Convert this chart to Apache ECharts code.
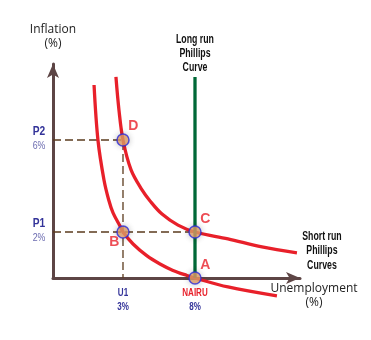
<!DOCTYPE html>
<html>
<head>
<meta charset="utf-8">
<script src="https://cdn.jsdelivr.net/npm/echarts@6/dist/echarts.min.js"></script>
<style>
  html, body { margin: 0; padding: 0; background: #ffffff; }
  #chart { width: 371px; height: 340px; }
</style>
</head>
<body>
<div id="chart"></div>
<script>
// Tick values and their labels on both axes
const unemploymentTicks = [3, 8];
const unemploymentTickNames = ['U1', 'NAIRU'];
const unemploymentTickLabels = ['3%', '8%'];
const inflationTicks = [2, 6];
const inflationTickNames = ['P1', 'P2'];
const inflationTickLabels = ['2%', '6%'];

// Short run Phillips curves: [unemployment, inflation]
const shortRunLower = [
  [0.99, 8.39], [1.26, 6.00], [1.68, 4.26], [2.01, 3.39], [2.31, 2.83],
  [2.79, 2.26], [3, 2], [3.70, 1.48], [4.67, 0.96], [5.57, 0.61],
  [6.47, 0.33], [7.44, 0.11], [8, 0], [10.29, -0.39], [13.69, -0.78]
];
const shortRunUpper = [
  [2.51, 8.74], [2.72, 7.30], [3, 6], [3.56, 4.70], [4.32, 3.83],
  [4.88, 3.35], [5.71, 2.78], [6.82, 2.30], [8, 2], [10.29, 1.70],
  [12.65, 1.35], [15.08, 1.09]
];

// Long run Phillips curve sits at the natural rate
const longRun = [[8, 0], [8, 8.74]];

// Equilibrium points
const pointNames = ['A', 'B', 'C', 'D'];
const pointValues = [[8, 0], [3, 2], [8, 2], [3, 6]];

const X_MIN = -1.861, X_MAX = 15.292;
const Y_MIN = 0, Y_MAX = 9.304;

const boldFace = '"Liberation Sans", Arial, sans-serif';
const plain = '"Open Sans", "Noto Sans", sans-serif';
const red = '#e8202a';
const navy = '#333399';
const axisColor = '#5d4545';
const guideColor = '#5b3b1e';
const NARROW = 0.73;
const POINT_SIZE = 12;

// Letter placement relative to each point's centre
const labelOffsets = { A: [11, -12], B: [-8, 11], C: [11, -12], D: [11, -13] };

const chart = echarts.init(document.getElementById('chart'), null, { renderer: 'canvas' });

chart.setOption({
  animation: false,
  backgroundColor: '#ffffff',
  grid: { left: 53, right: 71, top: 64, bottom: 62 },
  xAxis: {
    type: 'value', min: X_MIN, max: X_MAX,
    splitLine: { show: false },
    axisTick: { show: false },
    axisLabel: { show: false },
    axisLine: { lineStyle: { color: axisColor, width: 3 }, symbol: ['none', 'arrow'], symbolSize: [9, 14] }
  },
  yAxis: {
    type: 'value', min: Y_MIN, max: Y_MAX,
    name: 'Inflation\n(%)', nameLocation: 'end', nameGap: 13,
    nameTextStyle: { fontFamily: plain, fontSize: 12, color: '#222222', lineHeight: 14, align: 'center' },
    splitLine: { show: false },
    axisTick: { show: false },
    axisLabel: { show: false },
    axisLine: { onZero: false, lineStyle: { color: axisColor, width: 3 }, symbol: ['none', 'arrow'], symbolSize: [9, 14] }
  },
  series: [
    {
      type: 'line', z: 1, silent: true, showSymbol: false, clip: false,
      data: [[X_MIN, inflationTicks[1]], [unemploymentTicks[0], inflationTicks[1]], [unemploymentTicks[0], 0]],
      lineStyle: { color: guideColor, width: 1.3, type: [8, 4] }
    },
    {
      type: 'line', z: 1, silent: true, showSymbol: false, clip: false,
      data: [[X_MIN, inflationTicks[0]], [unemploymentTicks[1], inflationTicks[0]]],
      lineStyle: { color: guideColor, width: 1.3, type: [8, 4] }
    },
    {
      type: 'line', z: 2, smooth: 0.35, showSymbol: false, clip: false,
      data: shortRunLower,
      lineStyle: { color: red, width: 3.3 }
    },
    {
      type: 'line', z: 2, smooth: 0.35, showSymbol: false, clip: false,
      data: shortRunUpper,
      lineStyle: { color: red, width: 3.3 }
    },
    {
      type: 'line', z: 3, showSymbol: false, clip: false,
      data: longRun,
      lineStyle: { color: '#006837', width: 3.3 }
    },
    {
      type: 'scatter', z: 5, clip: false,
      symbolSize: POINT_SIZE,
      data: pointNames.map(function (n, i) {
        const o = labelOffsets[n];
        return {
          name: n, value: pointValues[i],
          label: { position: [POINT_SIZE / 2 + o[0], POINT_SIZE / 2 + o[1]] }
        };
      }),
      itemStyle: {
        color: '#e8a46c', borderColor: '#2b2bd9', borderWidth: 1.5,
        shadowBlur: 6, shadowColor: 'rgba(0,0,0,0.25)'
      },
      label: {
        show: true, align: 'center', verticalAlign: 'middle',
        formatter: '{b}',
        fontFamily: boldFace, fontWeight: 'bold', fontSize: 14, color: red
      }
    }
  ]
});

// Text placed from the axes' own scales, drawn in a condensed bold face
function narrowText(x, y, text, style, scale) {
  return {
    type: 'text', x: x, y: y, scaleX: scale || NARROW, z: 10, silent: true,
    style: Object.assign({ text: text, align: 'center', verticalAlign: 'middle' }, style)
  };
}

const toX = function (v) { return chart.convertToPixel({ xAxisIndex: 0 }, v); };
const toY = function (v) { return chart.convertToPixel({ yAxisIndex: 0 }, v); };
const baseY = toY(0);
const leftX = toX(X_MIN);
const graphics = [];

unemploymentTicks.forEach(function (v, i) {
  const x = toX(v);
  const isNatural = unemploymentTickNames[i] === 'NAIRU';
  graphics.push(narrowText(x, baseY + 15, unemploymentTickNames[i],
    { fontFamily: boldFace, fontWeight: 'bold', fontSize: 11, fill: isNatural ? red : navy }));
  graphics.push(narrowText(x, baseY + 29, unemploymentTickLabels[i],
    { fontFamily: boldFace, fontWeight: 'bold', fontSize: 11, fill: navy }));
});

inflationTicks.forEach(function (v, i) {
  const y = toY(v);
  graphics.push(narrowText(leftX - 14, y - 8, inflationTickNames[i],
    { fontFamily: boldFace, fontWeight: 'bold', fontSize: 12, fill: navy }, 0.85));
  graphics.push(narrowText(leftX - 14, y + 6, inflationTickLabels[i],
    { fontFamily: boldFace, fontSize: 11, fill: '#6b6bb0' }, 0.8));
});

// Long run curve caption above the top of the vertical line
const lrTop = chart.convertToPixel({ gridIndex: 0 }, longRun[longRun.length - 1]);
graphics.push(narrowText(lrTop[0], lrTop[1] - 2, 'Long run\nPhillips\nCurve',
  { fontFamily: boldFace, fontWeight: 'bold', fontSize: 12, lineHeight: 14, fill: '#111111', verticalAlign: 'bottom' }));

// Short run caption just past the end of the upper curve
const srEnd = chart.convertToPixel({ gridIndex: 0 }, shortRunUpper[shortRunUpper.length - 1]);
graphics.push(narrowText(srEnd[0] + 25, srEnd[1] - 2, 'Short run\nPhillips\nCurves',
  { fontFamily: boldFace, fontWeight: 'bold', fontSize: 12, lineHeight: 14.5, fill: '#111111' }));

// Horizontal axis title
const xEnd = toX(X_MAX);
graphics.push({
  type: 'text', x: xEnd + 14, y: baseY + 18, z: 10, silent: true,
  style: { text: 'Unemployment\n(%)', align: 'center', verticalAlign: 'middle',
    fontFamily: plain, fontSize: 12, lineHeight: 14, fill: '#222222' }
});

chart.setOption({ graphic: graphics });
</script>
</body>
</html>
